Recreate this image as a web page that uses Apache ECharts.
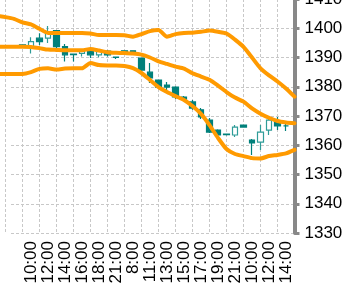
<!DOCTYPE html>
<html><head><meta charset="utf-8">
<script src="https://cdn.jsdelivr.net/npm/echarts@6/dist/echarts.min.js"></script>
<style>html,body{margin:0;padding:0;background:#fff;}#c{width:342px;height:295px;}</style>
</head><body><div id="c"></div>
<script>
const categories = ['20:00','21:00','22:00','9:00','10:00','11:00','12:00','13:00','14:00','15:00','16:00','17:00','18:00','20:00','21:00','22:00','8:00','10:00','11:00','12:00','13:00','14:00','15:00','16:00','17:00','18:00','19:00','20:00','21:00','22:00','10:00','11:00','12:00','13:00','14:00','15:00'];
const openVals  = [null,null,null,1394.3,1393.7,1396.6,1396.6,1399.2,1393.7,1391.2,1391.4,1392.2,1390.9,1392.2,1390.1,1392.3,1392.3,1389.8,1385.0,1382.3,1380.6,1379.9,1376.5,1374.8,1372.1,1368.6,1365.2,1363.8,1363.5,1366.9,1361.8,1361.1,1365.2,1368.3,1366.6,null];
const closeVals = [null,null,null,1393.6,1395.4,1395.4,1398.8,1393.7,1390.9,1391.0,1392.2,1390.9,1392.2,1390.9,1390.0,1391.4,1391.4,1385.7,1383.0,1379.9,1379.9,1376.5,1375.8,1372.7,1369.7,1364.5,1363.5,1363.6,1366.2,1366.2,1360.8,1364.5,1368.6,1366.6,1366.6,null];
const lowVals   = [null,null,null,1393.5,1391.4,1394.3,1395.0,1393.1,1388.6,1388.6,1390.3,1389.8,1390.1,1390.3,1389.5,1391.2,1391.2,1385.0,1381.3,1379.6,1378.9,1375.8,1375.5,1372.1,1369.0,1364.2,1363.2,1363.3,1362.8,1366.0,1356.7,1358.4,1363.5,1365.2,1364.9,null];
const highVals  = [null,null,null,1394.4,1396.9,1398.3,1400.8,1399.4,1394.6,1391.4,1392.6,1392.6,1392.6,1392.6,1390.3,1392.5,1392.5,1390.0,1388.1,1382.5,1381.6,1380.2,1376.8,1375.5,1372.7,1369.3,1365.5,1364.0,1366.9,1367.0,1362.1,1366.9,1369.7,1369.7,1367.9,null];
const upperBand = [1404.2,1403.8,1403.2,1402.0,1401.3,1399.8,1398.4,1398.4,1398.4,1398.4,1398.4,1398.2,1397.7,1397.7,1397.7,1397.6,1397.1,1398.0,1399.0,1399.4,1397.1,1398.0,1398.4,1398.5,1398.8,1399.2,1398.8,1398.2,1396.1,1393.6,1390.0,1386.3,1383.9,1381.8,1379.4,1376.6];
const middleBand = [1393.7,1393.7,1393.7,1393.7,1393.6,1393.2,1392.7,1392.6,1392.5,1392.5,1392.5,1392.9,1392.4,1391.8,1391.6,1391.5,1391.4,1391.0,1390.0,1388.7,1387.8,1386.9,1386.2,1384.6,1383.5,1382.4,1380.4,1378.2,1376.3,1374.9,1372.6,1370.8,1369.4,1368.3,1367.8,1367.5];
const lowerBand = [1384.4,1384.4,1384.4,1384.4,1385.0,1386.1,1386.3,1385.9,1386.2,1386.3,1386.3,1388.1,1387.4,1387.3,1387.3,1387.1,1386.4,1384.7,1382.3,1379.9,1378.2,1376.8,1375.5,1373.4,1370.7,1366.9,1362.5,1358.7,1357.0,1356.3,1355.6,1355.5,1356.3,1356.7,1357.2,1358.4];
const yMin = 1330, yMax = 1410, yStep = 10;

const candleData = categories.map((c, i) => openVals[i] == null ? '-' : [openVals[i], closeVals[i], lowVals[i], highVals[i]]);
const showLabel = (i) => i >= 4 && i % 2 === 0;
const showGrid = (i) => i % 2 === 1;

const chart = echarts.init(document.getElementById('c'), null, {renderer: 'canvas'});
const bandStyle = {color: '#ff9a00', width: 4, cap: 'round', join: 'round'};
chart.setOption({
  animation: false,
  backgroundColor: '#fff',
  grid: [
    {left: -3, width: 297.5, top: -1, height: 234, containLabel: false, outerBoundsMode: 'none'},
    {left: 11, width: 283.5, top: -1, height: 234, containLabel: false, outerBoundsMode: 'none'}
  ],
  xAxis: [
    {type: 'category', data: categories, boundaryGap: false, gridIndex: 0,
     axisLine: {show: false}, axisTick: {show: false},
     axisLabel: {rotate: 90, interval: (i) => showLabel(i), margin: 8, fontSize: 17, fontFamily: 'Liberation Sans', color: '#000'},
     splitLine: {show: true, interval: (i) => showGrid(i), lineStyle: {color: '#c8c8c8', type: [3, 2], width: 1}}},
    {type: 'value', gridIndex: 1, min: 0, max: 1, show: false}
  ],
  yAxis: [
    {type: 'value', position: 'right', gridIndex: 0, min: yMin, max: yMax, interval: yStep,
     axisLine: {show: true, lineStyle: {color: '#888', width: 4}},
     axisTick: {show: true, inside: false, length: 5, lineStyle: {color: '#888', width: 3}},
     axisLabel: {margin: 10, fontSize: 17, fontFamily: 'Liberation Sans', color: '#000', formatter: (v) => String(v)},
     splitLine: {show: false}},
    {type: 'value', gridIndex: 1, min: yMin, max: yMax, interval: yStep,
     axisLine: {show: false}, axisTick: {show: false}, axisLabel: {show: false},
     splitLine: {show: true, lineStyle: {color: '#c8c8c8', type: [3, 2], width: 1}}}
  ],
  series: [
    {type: 'candlestick', xAxisIndex: 0, yAxisIndex: 0, data: candleData, barWidth: 6, z: 2,
     itemStyle: {color: '#ffffff', color0: '#00807b', borderColor: '#2f9c98', borderColor0: '#00807b', borderColorDoji: '#00807b', borderWidth: 1.2}},
    {type: 'line', xAxisIndex: 0, yAxisIndex: 0, data: upperBand, showSymbol: false, smooth: 0.2, lineStyle: bandStyle, z: 3},
    {type: 'line', xAxisIndex: 0, yAxisIndex: 0, data: middleBand, showSymbol: false, smooth: 0.2, lineStyle: bandStyle, z: 3},
    {type: 'line', xAxisIndex: 0, yAxisIndex: 0, data: lowerBand, showSymbol: false, smooth: 0.2, lineStyle: bandStyle, z: 3}
  ]
});
</script></body></html>
